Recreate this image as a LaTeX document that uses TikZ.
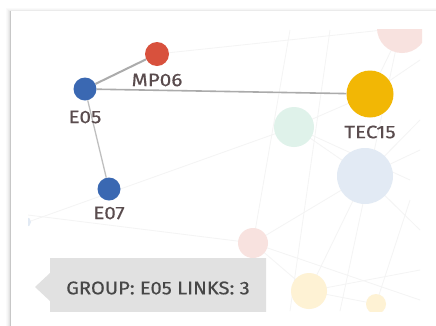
\documentclass[tikz,border=0pt]{standalone}
\usepackage{fontspec}
\setmainfont{Fira Sans}
\newfontfamily\lblfont[FakeStretch=1.15,FakeBold=0.4]{Fira Sans}
\newfontfamily\tipfont[FakeStretch=1.1,FakeBold=0.4]{Fira Sans}
\usetikzlibrary{shapes.geometric}
\definecolor{cblue}{HTML}{3A68B2}
\definecolor{cred}{HTML}{D8513D}
\definecolor{cyel}{HTML}{F2B705}
\definecolor{cmint}{HTML}{DFF2EA}
\definecolor{cpaleblue}{HTML}{E2EAF4}
\definecolor{cpink}{HTML}{F8E2DF}
\definecolor{cpaleyel}{HTML}{FEF2D4}
\definecolor{ctext}{HTML}{5A4C4E}
\definecolor{cedge}{HTML}{ABABAB}
\definecolor{cfaint}{HTML}{F4F4F4}
\definecolor{ctip}{HTML}{E1E1E1}
\tikzset{
  dot/.style={circle, inner sep=0pt, draw=none},
  lbl/.style={text=ctext, font=\lblfont\fontsize{18}{20}\selectfont, inner sep=0pt},
  link/.style={draw=cedge, line width=1.6pt},
  faint/.style={draw=cfaint, line width=0.8pt},
}
\begin{document}
\begin{tikzpicture}[x=1pt,y=-1pt]
\useasboundingbox (0,0) rectangle (436,325);
\fill[white] (0,0) rectangle (436,325);
% card shadow and border
\foreach \i/\c in {0/2,1/4,2/7,3/11} {
  \fill[black!\c] (6+\i,8+\i) rectangle (440,330);
}
\fill[white] (10,10) rectangle (440,330);
\draw[black!22, line width=0.8pt] (10,330) -- (10,10.3);
\draw[black!8, line width=0.8pt] (10,10) -- (440,10);
\begin{scope}
\clip (28,29) rectangle (422,311);
% faint background lines
\draw[faint] (28,222) -- (294,127);
\draw[faint] (28,215) -- (253,243);
\draw[faint] (157,54) -- (402,28);
\draw[faint] (294,127) -- (370,94);
\draw[faint] (294,127) -- (365,176);
\draw[faint] (294,127) -- (410,180);
\draw[faint] (253,243) -- (365,176);
\draw[faint] (253,243) -- (309,291);
\draw[faint] (309,291) -- (365,176);
\draw[faint] (309,291) -- (376,304);
\draw[faint] (309,291) -- (420,270);
\draw[faint] (376,304) -- (410,200);
\draw[faint] (365,176) -- (420,120);
\draw[faint] (365,176) -- (420,150);
\draw[faint] (365,176) -- (420,230);
\draw[faint] (370,94) -- (402,28);
\draw[faint] (370,94) -- (420,60);
\draw[faint] (290,30) -- (253,243);
\draw[faint] (330,30) -- (290,311);
\draw[faint] (400,30) -- (340,311);
\draw[faint] (253,243) -- (420,300);
% faded nodes
\node[dot, fill=cpink, minimum size=50pt] (p1) at (402,28) {};
\node[dot, fill=cmint, minimum size=40pt] (m1) at (294,127) {};
\node[dot, fill=cpaleblue, minimum size=56pt] (b1) at (365,176) {};
\node[dot, fill=cpink, minimum size=30pt] (p2) at (253,243) {};
\node[dot, fill=cpaleyel, minimum size=36pt] (y1) at (309,291) {};
\node[dot, fill=cpaleyel, minimum size=20pt] (y2) at (376,304) {};
\node[dot, fill=cpaleblue, minimum size=10pt] (b2) at (26,222) {};
% active nodes
\node[dot, fill=cred, minimum size=24pt] (mp06) at (157,54) {};
\node[dot, fill=cblue, minimum size=23pt] (e05) at (85,89) {};
\node[dot, fill=cblue, minimum size=23pt] (e07) at (109,189) {};
\node[dot, fill=cyel, minimum size=47pt] (tec15) at (370,94) {};
\draw[link, line width=2pt] (e05) -- (mp06);
\draw[link] (e05) -- (tec15);
\draw[link, draw=black!25, line width=1.3pt] (e05) -- (e07);
\node[lbl] (lmp06) at (157,80) {MP06};
\node[lbl] (le05) at (85,117) {E05};
\node[lbl] (le07) at (109,213) {E07};
\node[lbl] (ltec15) at (370,132) {TEC15};
% tooltip
\fill[ctip] (35,287) -- (50,273) -- (50,258) -- (266,258) -- (266,320) -- (50,320) -- (50,301) -- cycle;
\node[text=black!72, font=\tipfont\fontsize{18.3}{20}\selectfont, inner sep=0pt] (tip) at (158,288) {GROUP: E05 LINKS: 3};
\end{scope}
\end{tikzpicture}
\end{document}
